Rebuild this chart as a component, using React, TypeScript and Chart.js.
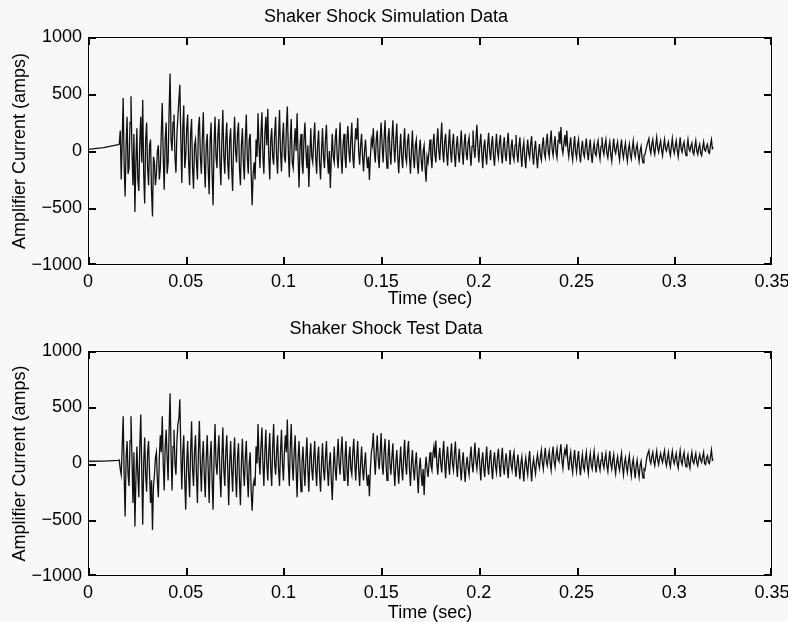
import { useEffect, useRef } from "react";
import { Chart, registerables } from "chart.js";

Chart.register(...registerables);

const TITLES = ["Shaker Shock Simulation Data", "Shaker Shock Test Data"];
const X_LABEL = "Time (sec)";
const Y_LABEL = "Amplifier Current (amps)";
const X_TICKS = [0, 0.05, 0.1, 0.15, 0.2, 0.25, 0.3, 0.35];
const Y_TICKS = [-1000, -500, 0, 500, 1000];

// pre-trigger segment
const LEAD_TIMES = [0, 0.008, 0.0155];
const SIM_LEAD = [15, 30, 55];
const TEST_LEAD = [20, 22, 28];

// sampled signal (one value every 0.5 ms, starting at 0.016 s)
const SAMPLE_START = 0.016;
const SAMPLE_STEP = 0.0005;

const SIM_VALUES = [
  60, 180, -250, 100, 465, -120, -400, 50, 300, -200,
  -150, 250, 480, 0, -300, 150, -535, -100, 200, -250,
  -350, 80, 300, -100, 450, -200, -460, 100, 250, -150,
  -300, 50, 100, -350, -575, -50, -100, -300, -200, 0,
  50, -250, -150, 150, 420, -50, -340, 100, 250, -200,
  -100, 350, 680, 100, 0, 250, 320, -50, -190, 150,
  300, 450, 580, 100, -280, 200, 400, -150, -50, 200,
  320, -100, -300, 150, 280, -150, -330, 50, 100, -100,
  -250, 200, 300, -50, -200, 100, 340, -100, -320, 50,
  150, -150, -380, 100, 250, -200, -475, 50, 300, -50,
  -150, 150, 280, -100, -300, 100, 360, -50, -200, 100,
  250, -100, -250, 100, 200, -150, -350, 50, 300, 0,
  -100, 150, 250, -150, -300, 50, 200, -100, -250, 100,
  320, -50, -200, 100, 150, -200, -475, -200, -100, -250,
  100, -50, 330, 50, -150, 150, 340, -50, -200, 150,
  300, 50, 370, -50, -250, 100, 200, -50, -120, 150,
  300, -50, -200, 100, 360, 0, -180, 100, 250, -50,
  -100, 200, 390, 0, -230, 100, 280, -100, -150, 50,
  200, 0, 330, -50, -320, 50, 150, -100, -200, 100,
  250, 0, -150, 50, -315, -50, 200, -50, -100, 100,
  250, -50, -200, 50, 180, -100, -250, 0, 200, -50,
  -150, 100, 230, -50, -200, 0, -325, -50, 150, -50,
  -100, 100, 200, -50, -150, 50, 250, -50, -200, 50,
  150, -50, -150, 100, 220, 0, -100, 100, 250, -50,
  -150, 50, 200, 100, 290, 0, -120, 50, 150, -50,
  -180, 0, 100, -50, -150, -50, -255, -50, 100, 50,
  200, 0, -100, 100, 180, -50, -150, 100, 250, 50,
  -100, 100, 270, 0, -150, 100, 200, 0, -120, 100,
  270, 50, -100, 100, 240, -50, -195, 0, 150, -50,
  -150, 50, 200, -50, -100, 80, 150, -50, -200, 0,
  180, -50, -150, 50, 100, -100, -200, 0, 100, -80,
  -180, 0, 50, -150, -270, -50, -100, 0, 100, -50,
  -150, 50, 150, -30, -100, 80, 200, 0, -80, 100,
  250, 0, -100, 80, 150, -20, -130, 50, 190, 0,
  -100, 60, 150, -30, -140, 40, 130, -20, -100, 50,
  180, 0, -120, 60, 150, -20, -80, 70, 120, -30,
  -130, 40, 180, 20, -60, 100, 230, 30, -100, 60,
  150, -20, -150, 30, 100, -40, -120, 50, 160, 0,
  -80, 60, 130, -40, -130, 20, 150, 0, -60, 70,
  140, -20, -110, 40, 120, -30, -90, 60, 160, 0,
  -120, 30, 100, -40, -80, 50, 140, -20, -100, 40,
  120, -30, -140, 20, 80, -60, -150, 0, 100, -20,
  -60, 60, 130, -30, -120, 20, 90, -50, -150, -20,
  60, -40, -80, 50, 120, -20, -60, 70, 150, 0,
  -50, 80, 180, 20, -40, 60, 130, -10, -60, 90,
  170, 60, 210, 30, -20, 60, 140, 40, 180, 20,
  -50, 50, 120, -20, -80, 40, 130, -10, -60, 50,
  100, -30, -100, 20, 90, -20, -50, 40, 110, -10,
  -80, 30, 100, -30, -105, 10, 70, -20, -40, 50,
  90, -10, -70, 40, 120, 10, -30, 50, 100, -20,
  -60, 30, 80, -30, -90, 20, 110, 10, -20, 40,
  80, -20, -80, 30, 100, -10, -60, 20, 70, -30,
  -90, 10, 60, -30, -70, 20, 90, -10, -50, 20,
  60, -30, -90, 0, 40, -60, -105, -40, -30, 10,
  50, 80, 110, 20, -20, 60, 100, 10, -30, 50,
  120, 30, -10, 50, 90, 10, -40, 40, 100, 20,
  0, 50, 80, 0, -40, 40, 110, 20, -20, 40,
  90, 10, -50, 30, 120, 20, -10, 50, 80, 0,
  -40, 30, 100, 20, 0, 40, 70, -10, -30, 40,
  90, 0, -30, 30, 60, -20, -40, 30, 80, 10,
  0, 40, 60, -10, -20, 50, 100, 20, 30,
];

const TEST_VALUES = [
  30, -50, -100, 150, 420, -100, -470, 50, 200, -100,
  -200, 200, 420, 50, -350, 100, -560, -150, 150, -100,
  -300, 150, 435, -50, -545, 0, 230, -100, -250, 100,
  200, -100, -350, -150, -590, -200, -100, 50, 100, -150,
  -300, 50, 250, 100, 420, 0, -240, 150, 300, 50,
  -150, 300, 625, 100, -240, 150, 300, 0, -100, 200,
  350, 400, 570, 100, -230, 100, 250, -150, -410, 0,
  200, -100, -300, 100, 375, -50, -200, 100, 250, -100,
  -350, 100, 377, 0, -250, 50, 200, -100, -300, 50,
  250, -50, -350, 50, 200, -150, -410, 50, 350, 0,
  -100, 100, 250, -100, -300, 50, 320, -50, -200, 100,
  250, -50, -370, 0, 200, -50, -250, 50, 230, -100,
  -300, 50, 180, -150, -370, 0, 220, -50, -200, 50,
  200, -100, -300, 0, 100, -250, -420, -200, -150, -200,
  150, 0, 350, 50, -100, 150, 320, 0, -200, 100,
  300, 0, -150, 100, 270, -50, -200, 150, 350, 0,
  -100, 100, 250, -50, -200, 100, 300, 0, -150, 100,
  250, 100, 390, 0, -200, 150, 350, 0, -150, 100,
  250, -50, -300, 50, 200, -50, -250, 0, 150, -50,
  -200, 50, 230, -50, -250, 50, 180, -50, -150, 50,
  200, -50, -200, 50, 150, -100, -250, 0, 180, -50,
  -150, 50, 200, -50, -200, 0, 100, -150, -325, -50,
  150, -50, -150, 50, 220, 0, -100, 100, 240, 0,
  -150, 50, 200, -50, -200, 50, 150, -50, -100, 100,
  220, 0, -150, 50, 200, -50, -200, 0, 150, -50,
  -150, 0, 100, -100, -200, -100, -290, -50, 100, 150,
  270, 50, -100, 100, 250, 50, -50, 100, 270, 0,
  -100, 100, 220, 0, -150, 50, 210, 0, -100, 50,
  180, -50, -200, 0, 120, -50, -180, 0, 150, -50,
  -150, 50, 210, 0, -100, 100, 200, -50, -200, 0,
  120, -50, -150, 0, 100, -100, -265, -50, 50, -100,
  -200, -50, -280, -50, 60, -50, -120, 0, 100, -20,
  -60, 80, 150, 50, 205, 0, -100, 50, 140, 0,
  -80, 80, 200, 0, -130, 50, 150, 0, -100, 60,
  180, 0, -60, 80, 195, 0, -120, 30, 130, -30,
  -150, 0, 100, -50, -165, -20, 60, -40, -100, 50,
  150, 0, -80, 60, 185, 20, -50, 60, 140, -20,
  -150, 20, 100, -40, -120, 30, 150, -20, -100, 40,
  120, -30, -140, 10, 100, -20, -80, 50, 130, -10,
  -120, 30, 140, -20, -100, 20, 90, -40, -130, 20,
  120, -10, -60, 50, 100, -30, -120, 0, 80, -40,
  -140, 0, 60, -60, -160, -20, 50, -40, -100, 30,
  110, -40, -160, -20, 40, -30, -90, 20, 80, 0,
  -40, 60, 120, 10, -50, 60, 140, 20, -20, 60,
  110, 0, -60, 80, 150, 20, -30, 70, 130, 40,
  20, 100, 170, 30, -40, 60, 120, 80, 170, 20,
  -60, 40, 100, -20, -80, 40, 120, 0, -70, 40,
  110, -20, -105, 10, 80, -30, -60, 40, 100, -20,
  -90, 20, 90, -10, -50, 40, 110, 0, -80, 20,
  70, -20, -60, 30, 100, 0, -40, 40, 90, -20,
  -70, 30, 110, 0, -50, 30, 80, -30, -90, 10,
  60, -20, -60, 30, 90, -30, -100, 0, 50, -30,
  -80, 10, 70, -40, -110, -10, 40, -50, -130, -20,
  30, -60, -120, -20, 20, -70, -130, -50, -60, 0,
  60, 90, 115, 30, 0, 60, 100, 20, -20, 50,
  110, 30, -10, 50, 90, 40, 10, 70, 115, 20,
  -20, 50, 100, 10, -30, 50, 110, 30, 0, 50,
  90, 0, -40, 50, 115, 20, -10, 60, 100, 10,
  -30, 40, 80, 0, -40, 50, 100, 20, 0, 50,
  90, 10, -20, 40, 80, 30, 10, 60, 100, 0,
  -10, 50, 70, 10, 0, 60, 120, 30, 40,
];

const FONT = "'Liberation Sans', Arial, Helvetica, sans-serif";
const FS = 18;

function buildPoints(lead: number[], values: number[]) {
  const pts = LEAD_TIMES.map((t, i) => ({ x: t, y: lead[i] }));
  values.forEach((v, i) => pts.push({ x: SAMPLE_START + i * SAMPLE_STEP, y: v }));
  return pts;
}

const fmt = (v: number) => (v < 0 ? "\u2212" + Math.abs(v) : String(v));

const boxPlugin = {
  id: "matlabBox",
  afterDraw(chart: any) {
    const { ctx, chartArea: a, scales } = chart;
    const L = Math.round(a.left);
    const R = Math.round(a.right) - 1;
    const T = Math.round(a.top);
    const B = Math.round(a.bottom) - 1;
    ctx.save();
    ctx.fillStyle = "#000";
    // frame
    ctx.fillRect(L, T, R - L + 1, 1);
    ctx.fillRect(L, B, R - L + 1, 1);
    ctx.fillRect(L, T, 1, B - T + 1);
    ctx.fillRect(R, T, 1, B - T + 1);
    const len = 7;
    for (const v of X_TICKS) {
      const px = Math.min(R - 1, Math.round(scales.x.getPixelForValue(v)));
      ctx.fillRect(px, B - len, 2, len);
      ctx.fillRect(px, T + 1, 2, len);
    }
    for (const v of Y_TICKS) {
      const py = Math.min(B - 1, Math.round(scales.y.getPixelForValue(v)));
      ctx.fillRect(L + 1, py, len, 2);
      ctx.fillRect(R - len, py, len, 2);
    }
    ctx.restore();
  },
};

function makeChart(
  canvas: HTMLCanvasElement,
  title: string,
  pts: { x: number; y: number }[],
  titlePad: { top: number; bottom: number },
  xTitlePad: number
) {
  const font = { family: FONT, size: FS, lineHeight: 1.2 };
  return new Chart(canvas, {
    type: "line",
    data: {
      datasets: [
        {
          data: pts,
          borderColor: "#111111",
          borderWidth: 1.3,
          pointRadius: 0,
          tension: 0,
          fill: false,
        },
      ],
    },
    options: {
      animation: false,
      responsive: false,
      devicePixelRatio: 1,
      layout: { padding: { left: 0, right: 16, top: 0, bottom: 0 } },
      plugins: {
        legend: { display: false },
        tooltip: { enabled: false },
        title: {
          display: true,
          text: title,
          color: "#000",
          font: { ...font, weight: "normal" },
          padding: titlePad,
        },
      },
      scales: {
        x: {
          type: "linear",
          min: 0,
          max: 0.35,
          afterBuildTicks: (s: any) => {
            s.ticks = X_TICKS.map((v) => ({ value: v }));
          },
          afterFit: (s: any) => {
            s.height = 46;
            s.paddingLeft = 0;
            s.paddingRight = 0;
          },
          grid: { display: false, drawTicks: false },
          border: { display: false },
          ticks: {
            autoSkip: false,
            maxRotation: 0,
            padding: 6,
            color: "#000",
            font,
            callback: (v: any) => fmt(Number(v)),
          },
          title: {
            display: true,
            text: X_LABEL,
            color: "#000",
            font,
            padding: { top: 0, bottom: xTitlePad },
          },
        },
        y: {
          type: "linear",
          min: -1000,
          max: 1000,
          afterBuildTicks: (s: any) => {
            s.ticks = Y_TICKS.map((v) => ({ value: v }));
          },
          afterFit: (s: any) => {
            s.width = 88;
          },
          grid: { display: false, drawTicks: false },
          border: { display: false },
          ticks: {
            autoSkip: false,
            padding: 6,
            color: "#000",
            font,
            callback: (v: any) => fmt(Number(v)),
          },
          title: {
            display: true,
            text: Y_LABEL,
            color: "#000",
            font,
            padding: { top: 9, bottom: 0 },
          },
        },
      },
    },
    plugins: [boxPlugin],
  } as any);
}

export default function App() {
  const topRef = useRef<HTMLCanvasElement | null>(null);
  const botRef = useRef<HTMLCanvasElement | null>(null);

  useEffect(() => {
    document.body.style.margin = "0";
    document.body.style.background = "#f8f8f8";
    const c1 = makeChart(
      topRef.current!,
      TITLES[0],
      buildPoints(SIM_LEAD, SIM_VALUES),
      { top: 6, bottom: 9.4 },
      1.5
    );
    const c2 = makeChart(
      botRef.current!,
      TITLES[1],
      buildPoints(TEST_LEAD, TEST_VALUES),
      { top: 7.5, bottom: 10.9 },
      -1.8
    );
    return () => {
      c1.destroy();
      c2.destroy();
    };
  }, []);

  return (
    <div
      style={{
        position: "absolute",
        left: 0,
        top: 0,
        width: 788,
        height: 622,
        background: "#f8f8f8",
        overflow: "hidden",
      }}
    >
      <canvas ref={topRef} width={788} height={311} style={{ display: "block", width: 788, height: 311 }} />
      <canvas ref={botRef} width={788} height={311} style={{ display: "block", width: 788, height: 311 }} />
    </div>
  );
}
